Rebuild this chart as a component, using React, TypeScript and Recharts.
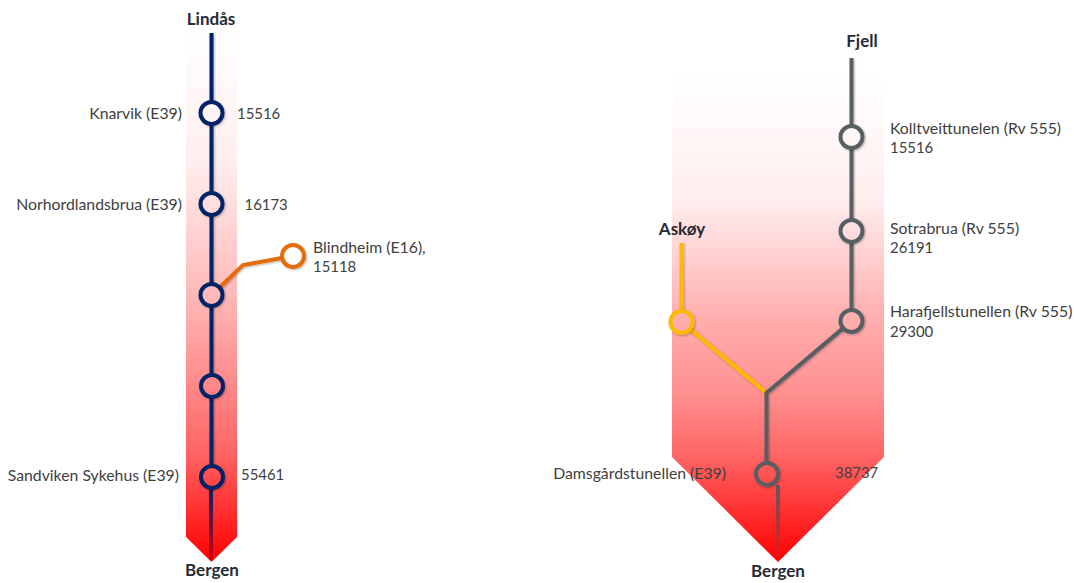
import { Area, ComposedChart, Line, Scatter, XAxis, YAxis } from 'recharts';

const WIDTH = 1074;
const HEIGHT = 583;

// Red arrows behind the two road diagrams: [top, bottom] per x
const leftArrowX = [186, 211.5, 237];
const leftArrowBottom = [537, 562, 537];
const leftArrowTop = [30, 30, 30];
const rightArrowX = [672, 778, 884];
const rightArrowBottom = [457, 562, 457];
const rightArrowTop = [75, 75, 75];

// Road lines
const lindasX = [211.5, 211.5];
const lindasY = [33, 489];
const lindasEndX = [211, 211];
const lindasEndY = [489, 560];
const blindheimX = [218, 243, 293];
const blindheimY = [289, 265, 256];
const fjellX = [851.5, 851.5, 851.5, 766.5, 766.5];
const fjellY = [58, 232, 321, 393, 474];
const askoyX = [681.5, 681.5, 766.5];
const askoyY = [243, 322, 393];
const damsgardEndX = [778, 778];
const damsgardEndY = [485, 556];

// Stations
const lindasNodeX = [211.5, 211.5, 211.5, 212, 212];
const lindasNodeY = [113, 204, 295, 386, 477];
const blindheimNodeX = [293];
const blindheimNodeY = [256];
const fjellNodeX = [851.5, 851.5, 851.5, 767];
const fjellNodeY = [137, 231, 321, 474];
const askoyNodeX = [681.5];
const askoyNodeY = [322];

// Station names and traffic counts
const endLabels = ['Knarvik (E39)', 'Norhordlandsbrua (E39)', 'Sandviken Sykehus (E39)', 'Damsgårdstunellen (E39)'];
const endLabelX = [182, 182, 179, 726];
const endLabelY = [113, 204, 475, 473];
const startLabels = [
  '15516', '16173', 'Blindheim (E16),', '15118', '55461', 'Kolltveittunelen (Rv 555)', '15516',
  'Sotrabrua (Rv 555)', '26191', 'Harafjellstunellen (Rv 555)', '29300', '38737',
];
const startLabelX = [237, 244.5, 313, 313, 241, 890, 890, 890, 890, 890, 890, 835];
const startLabelY = [114, 204.5, 247, 267, 475, 128, 148, 228, 248, 311, 332, 473];
const titles = ['Lindås', 'Bergen', 'Fjell', 'Askøy', 'Bergen'];
const titleX = [211, 212, 862, 682, 778];
const titleY = [19, 570, 41, 229, 571];

const points = (xs: number[], ys: number[]) => xs.map((x, i) => ({ x, y: ys[i] }));
const arrow = (xs: number[], tops: number[], bottoms: number[]) =>
  xs.map((x, i) => ({ x, range: [tops[i], bottoms[i]] }));
const labelled = (texts: string[], xs: number[], ys: number[]) =>
  texts.map((text, i) => ({ text, x: xs[i], y: ys[i] }));

const nodeShape = (stroke: string, fill: string) => (props: any) => (
  <circle cx={props.cx} cy={props.cy} r={11} fill={fill} stroke={stroke} strokeWidth={4} filter="url(#shadow)" />
);

// Lato digits run a little wide next to the reference, so counts get a smaller size
const regularSize = (text: string) => (/^\d+$/.test(text) ? 14.9 : 15.8);

const textShape = (anchor: 'start' | 'end' | 'middle', bold: boolean) => (props: any) => (
  <text
    x={props.cx}
    y={props.cy}
    dy="0.35em"
    textAnchor={anchor}
    fontFamily="Lato"
    fontSize={bold ? 17 : regularSize(props.payload.text)}
    fontWeight={bold ? 700 : 400}
    fill={bold ? '#262b33' : '#404040'}
  >
    {props.payload.text}
  </text>
);

const NAVY = '#022266';
const GRAY = '#585e64';
const ORANGE = '#e36c0a';
const YELLOW = '#fdb900';

export default function App() {
  return (
    <div style={{ position: 'absolute', left: 0, top: 0, width: WIDTH, height: HEIGHT }}>
      <ComposedChart width={WIDTH} height={HEIGHT} margin={{ top: 0, right: 0, bottom: 0, left: 0 }}>
        <defs>
          <linearGradient id="leftFade" gradientUnits="userSpaceOnUse" x1="0" y1="30" x2="0" y2="562">
            <stop offset="0" stopColor="#ffffff" />
            <stop offset="0.25" stopColor="#ffeeee" />
            <stop offset="0.5" stopColor="#ffb8b8" />
            <stop offset="0.79" stopColor="#ff6666" />
            <stop offset="1" stopColor="#ff0000" />
          </linearGradient>
          <linearGradient id="rightFade" gradientUnits="userSpaceOnUse" x1="0" y1="75" x2="0" y2="562">
            <stop offset="0" stopColor="#ffffff" />
            <stop offset="0.257" stopColor="#ffeeee" />
            <stop offset="0.5" stopColor="#ffaeae" />
            <stop offset="0.655" stopColor="#ff9090" />
            <stop offset="0.784" stopColor="#ff6464" />
            <stop offset="1" stopColor="#ff0000" />
          </linearGradient>
          <linearGradient id="navyEnd" gradientUnits="userSpaceOnUse" x1="0" y1="489" x2="0" y2="560">
            <stop offset="0" stopColor={NAVY} />
            <stop offset="1" stopColor="#d00010" />
          </linearGradient>
          <linearGradient id="grayEnd" gradientUnits="userSpaceOnUse" x1="0" y1="485" x2="0" y2="556">
            <stop offset="0" stopColor={GRAY} />
            <stop offset="1" stopColor="#ee1515" />
          </linearGradient>
          <filter id="shadow" filterUnits="userSpaceOnUse" x="0" y="0" width={WIDTH} height={HEIGHT}>
            <feDropShadow dx="1" dy="1" stdDeviation="1" floodColor="#000000" floodOpacity="0.3" />
          </filter>
        </defs>
        <XAxis type="number" dataKey="x" domain={[0, WIDTH]} hide />
        <YAxis type="number" domain={[0, HEIGHT]} reversed hide />

        <Area data={arrow(leftArrowX, leftArrowTop, leftArrowBottom)} dataKey="range" stroke="none" fill="url(#leftFade)" fillOpacity={1} isAnimationActive={false} activeDot={false} />
        <Area data={arrow(rightArrowX, rightArrowTop, rightArrowBottom)} dataKey="range" stroke="none" fill="url(#rightFade)" fillOpacity={1} isAnimationActive={false} activeDot={false} />

        <Line data={points(blindheimX, blindheimY)} dataKey="y" stroke={ORANGE} strokeWidth={4} dot={false} activeDot={false} isAnimationActive={false} filter="url(#shadow)" />
        <Line data={points(lindasX, lindasY)} dataKey="y" stroke={NAVY} strokeWidth={4} dot={false} activeDot={false} isAnimationActive={false} filter="url(#shadow)" />
        <Line data={points(lindasEndX, lindasEndY)} dataKey="y" stroke="url(#navyEnd)" strokeWidth={4} dot={false} activeDot={false} isAnimationActive={false} />
        <Line data={points(askoyX, askoyY)} dataKey="y" stroke={YELLOW} strokeWidth={4} dot={false} activeDot={false} isAnimationActive={false} filter="url(#shadow)" />
        <Line data={points(fjellX, fjellY)} dataKey="y" stroke={GRAY} strokeWidth={4} dot={false} activeDot={false} isAnimationActive={false} filter="url(#shadow)" />
        <Line data={points(damsgardEndX, damsgardEndY)} dataKey="y" stroke="url(#grayEnd)" strokeWidth={4} dot={false} activeDot={false} isAnimationActive={false} />

        <Scatter data={points(blindheimNodeX, blindheimNodeY)} dataKey="y" shape={nodeShape(ORANGE, '#ffffff')} isAnimationActive={false} />
        <Scatter data={points(lindasNodeX, lindasNodeY)} dataKey="y" shape={nodeShape(NAVY, 'url(#leftFade)')} isAnimationActive={false} />
        <Scatter data={points(askoyNodeX, askoyNodeY)} dataKey="y" shape={nodeShape(YELLOW, 'url(#rightFade)')} isAnimationActive={false} />
        <Scatter data={points(fjellNodeX, fjellNodeY)} dataKey="y" shape={nodeShape(GRAY, 'url(#rightFade)')} isAnimationActive={false} />

        <Scatter data={labelled(endLabels, endLabelX, endLabelY)} dataKey="y" shape={textShape('end', false)} isAnimationActive={false} />
        <Scatter data={labelled(startLabels, startLabelX, startLabelY)} dataKey="y" shape={textShape('start', false)} isAnimationActive={false} />
        <Scatter data={labelled(titles, titleX, titleY)} dataKey="y" shape={textShape('middle', true)} isAnimationActive={false} />
      </ComposedChart>
    </div>
  );
}
